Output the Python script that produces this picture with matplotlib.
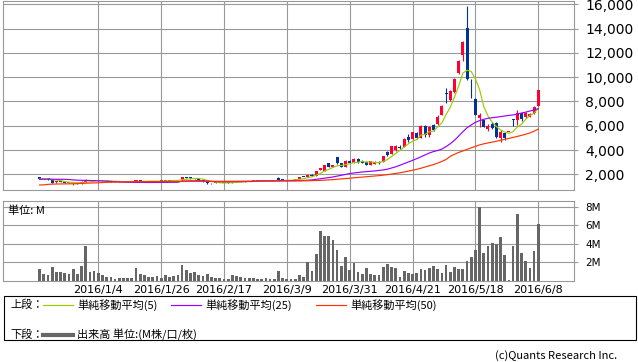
import numpy as np
import pandas as pd
import matplotlib
matplotlib.use("Agg")
import matplotlib.pyplot as plt
from matplotlib.patches import Rectangle
from matplotlib.lines import Line2D

plt.rcParams['font.family'] = ['Noto Sans CJK JP', 'DejaVu Sans']

# trading-day index, 0 = 2016/1/4
day_index = np.arange(-14, 106)

opens = [1750, 1600, 1690, 1600, 1330, 1420, 1360, 1320, 1260, 1300, 1240, 1400, 1540, 1460,
         1520, 1440, 1480, 1420, 1400, 1380, 1400, 1370, 1390, 1360,
         1500, 1440, 1420, 1440, 1420, 1460, 1450, 1480, 1470, 1500,
         1530, 1760, 1700, 1680, 1620, 1540, 1430, 1250, 1290, 1300,
         1270, 1310, 1300, 1380, 1400, 1420, 1440, 1420, 1500, 1450,
         1460, 1440, 1450, 1720, 1560, 1520, 1510, 1520, 1600, 1780,
         1760, 1960, 1890, 2360, 2300, 2900, 2600, 3400, 2900, 2630,
         3100, 2950, 3250, 3100, 3000, 2800, 2850, 3040, 3020, 3800,
         3700, 4000, 4280, 4280, 5050, 4940, 5430, 4970, 6000, 5200,
         6050, 6150, 6890, 8700, 8120, 8750, 10380, 11830, 14030, 8400,
         8200, 6610, 6480, 5700, 6150, 6250, 4970, 5380, 5510, 6500,
         6480, 7030, 6700, 6750, 7080, 7630]
highs = [1790, 1720, 1700, 1620, 1450, 1440, 1400, 1360, 1320, 1320, 1420, 1580, 1560, 1540,
         1560, 1500, 1500, 1450, 1420, 1420, 1420, 1400, 1420, 1520,
         1520, 1460, 1450, 1460, 1470, 1480, 1490, 1500, 1510, 1540,
         1800, 1800, 1760, 1700, 1640, 1560, 1450, 1320, 1330, 1320,
         1320, 1340, 1400, 1420, 1440, 1450, 1460, 1520, 1510, 1480,
         1480, 1470, 1480, 1760, 1580, 1540, 1530, 1620, 1800, 1800,
         1980, 2000, 2300, 2540, 2800, 2950, 2780, 3450, 2950, 3150,
         3150, 3320, 3320, 3150, 3100, 3100, 3080, 3100, 3530, 3950,
         4350, 4450, 4420, 4950, 5300, 5500, 5500, 6100, 6050, 6000,
         6150, 6850, 7700, 9080, 8950, 9900, 11400, 13000, 15870, 9850,
         8250, 7030, 6500, 6150, 6300, 6330, 5650, 5500, 5510, 6550,
         7300, 7100, 7150, 7050, 7650, 8950]
lows = [1580, 1580, 1560, 1280, 1300, 1340, 1300, 1250, 1150, 1220, 1220, 1380, 1440, 1450,
        1420, 1420, 1400, 1380, 1360, 1370, 1360, 1350, 1350, 1350,
        1430, 1400, 1380, 1410, 1410, 1430, 1440, 1460, 1460, 1480,
        1520, 1680, 1650, 1600, 1520, 1400, 1200, 1180, 1260, 1250,
        1250, 1280, 1290, 1350, 1380, 1400, 1410, 1410, 1440, 1420,
        1430, 1420, 1430, 1560, 1500, 1490, 1490, 1510, 1600, 1740,
        1750, 1860, 1870, 2330, 2280, 2560, 2580, 2880, 2600, 2600,
        2920, 2920, 2950, 2920, 2750, 2780, 2820, 2880, 3000, 3480,
        3680, 3950, 4080, 4250, 4700, 4900, 4900, 4950, 5100, 5100,
        5600, 6100, 6850, 7850, 8050, 8700, 10300, 11300, 9780, 8300,
        6850, 5870, 5870, 5550, 5700, 4960, 4700, 4850, 5510, 5980,
        6100, 6400, 6600, 6700, 6950, 7600]
closes = [1600, 1700, 1600, 1320, 1420, 1360, 1320, 1280, 1300, 1240, 1400, 1540, 1460, 1520,
          1440, 1480, 1420, 1400, 1380, 1400, 1370, 1390, 1360, 1500,
          1440, 1420, 1440, 1420, 1460, 1450, 1480, 1470, 1500, 1530,
          1760, 1700, 1680, 1620, 1540, 1430, 1250, 1290, 1300, 1270,
          1310, 1300, 1380, 1400, 1420, 1440, 1420, 1500, 1450, 1460,
          1440, 1450, 1470, 1560, 1520, 1510, 1520, 1600, 1780, 1760,
          1950, 1890, 2260, 2490, 2770, 2600, 2750, 2900, 2630, 3100,
          2950, 3290, 3000, 2950, 2800, 3070, 3050, 2900, 3500, 3550,
          4330, 4330, 4140, 4900, 4850, 5450, 4970, 6000, 5200, 5900,
          5680, 6750, 7630, 8640, 8900, 9850, 11340, 12930, 9830, 8340,
          6890, 6890, 5900, 5980, 5790, 5100, 5510, 4970, 5510, 6480,
          7030, 6590, 7080, 6970, 7520, 8950]

ma25 = [1590, 1592, 1595, 1593, 1590, 1588, 1585, 1570, 1540, 1515, 1505, 1500, 1495, 1480,
        1465, 1450, 1430, 1410, 1390, 1370, 1355, 1345, 1340, 1335,
        1330, 1330, 1328, 1328, 1330, 1332, 1335, 1338, 1340, 1345,
        1440, 1450, 1460, 1465, 1470, 1465, 1440, 1410, 1400, 1400,
        1398, 1398, 1400, 1400, 1402, 1405, 1405, 1408, 1440, 1450,
        1452, 1455, 1458, 1465, 1470, 1470, 1472, 1475, 1480, 1490,
        1510, 1540, 1590, 1630, 1680, 1730, 1780, 1850, 1920, 1990,
        2060, 2110, 2150, 2190, 2220, 2250, 2280, 2320, 2360, 2420,
        2520, 2620, 2750, 2880, 3010, 3150, 3290, 3440, 3600, 3750,
        3870, 3960, 4080, 4280, 4520, 4800, 5150, 5500, 5830, 6060,
        6280, 6420, 6530, 6610, 6660, 6700, 6750, 6800, 6850, 6890,
        6960, 7040, 7120, 7210, 7300, 7400]
ma50 = [1120, 1130, 1170, 1190, 1200, 1205, 1210, 1215, 1220, 1230, 1250, 1265, 1280, 1290,
        1300, 1320, 1340, 1350, 1360, 1370, 1375, 1380, 1385, 1390,
        1392, 1395, 1395, 1396, 1398, 1400, 1400, 1402, 1405, 1405,
        1410, 1412, 1415, 1418, 1420, 1420, 1420, 1422, 1425, 1425,
        1425, 1428, 1430, 1430, 1432, 1432, 1435, 1435, 1438, 1440,
        1440, 1442, 1442, 1445, 1448, 1450, 1452, 1455, 1460, 1465,
        1470, 1480, 1490, 1500, 1520, 1540, 1560, 1590, 1620, 1650,
        1680, 1710, 1740, 1770, 1800, 1830, 1860, 1890, 1930, 1970,
        2020, 2070, 2130, 2190, 2260, 2330, 2410, 2500, 2600, 2700,
        2800, 2920, 3060, 3220, 3480, 3650, 3800, 3920, 4050, 4180,
        4300, 4420, 4510, 4580, 4650, 4720, 4800, 4880, 4960, 5040,
        5120, 5210, 5300, 5400, 5550, 5720]

# volume in millions
volumes = [1.23, 0.72, 0.58, 1.48, 0.97, 0.90, 0.79, 0.72, 1.23, 0.69, 1.59, 3.75, 0.94, 1.00,
           0.83, 0.61, 0.40, 0.40, 0.14, 0.25, 0.25, 0.25, 0.25, 1.37, 0.69, 0.58, 0.40, 0.36, 0.47,
           0.25, 0.58, 0.36, 0.47, 0.58, 1.66, 1.12, 0.76, 0.90, 0.65, 0.50, 0.69, 0.40, 0.29, 0.29,
           0.14, 0.14, 0.58, 0.47, 0.40, 0.22, 0.25, 0.25, 0.14, 0.14, 0.25, 0.14, 0.14, 1.00, 0.25,
           0.12, 0.12, 0.12, 0.65, 0.38, 1.97, 1.00, 2.85,
           5.34, 4.80, 4.80, 4.37, 3.29, 1.55, 2.53, 1.12, 1.91, 0.90, 0.69, 1.34, 0.69, 0.58, 0.58,
           1.44, 1.77, 1.44, 1.34, 0.36, 1.00, 0.79, 0.69, 0.79, 1.23, 1.12, 1.34, 1.55, 1.23, 0.79,
           1.66, 0.90, 1.44, 1.23, 1.23, 2.10, 2.53, 3.29, 7.98, 2.96, 3.72, 4.04, 4.00, 4.69, 2.74,
           0.04, 3.72, 7.18, 2.96, 2.10, 1.34, 3.18, 6.10]

tick_days = [0, 15, 30, 45, 60, 75, 90, 105]
tick_labels = ['2016/1/4', '2016/1/26', '2016/2/17', '2016/3/9',
               '2016/3/31', '2016/4/21', '2016/5/18', '2016/6/8']
price_ticks = [2000, 4000, 6000, 8000, 10000, 12000, 14000, 16000]
vol_ticks = [2, 4, 6, 8]

RED = '#ff0033'
BLUE = '#003399'
GRID = '#999999'

W, H = 638, 362
fx = lambda px: px / W
fy = lambda py: 1 - py / H

fig = plt.figure(figsize=(W / 100, H / 100), dpi=100)
ax = fig.add_axes([fx(3.3), fy(190.3), fx(574.3) - fx(3.3), fy(0.7) - fy(190.3)])
axv = fig.add_axes([fx(3.3), fy(280.5), fx(574.3) - fx(3.3), fy(201) - fy(280.5)])

o = np.array(opens, dtype=float)
c = np.array(closes, dtype=float)
col = np.where(c >= o, RED, BLUE)

ax.vlines(day_index, lows, highs, colors=col, lw=0.8, zorder=3)
ax.bar(day_index, np.maximum(np.abs(c - o), 60), bottom=np.minimum(o, c),
       width=0.72, color=col, lw=0, zorder=3)

ma5 = pd.Series(closes).rolling(5, min_periods=1).mean()
ax.plot(day_index, ma5, color='#99cc00', lw=0.85, zorder=4)
ax.plot(day_index, ma25, color='#9900ff', lw=0.85, zorder=4)
ax.plot(day_index, ma50, color='#ff3300', lw=0.85, zorder=4)

axv.bar(day_index, volumes, width=0.65, color='#666666', lw=0, zorder=3)

for a in (ax, axv):
    a.set_xlim(-22.67, 113.6)
    a.set_xticks(tick_days)
    a.grid(True, color=GRID, lw=0.8, zorder=0)
    a.set_axisbelow(True)
    for s in a.spines.values():
        s.set_color(GRID)
        s.set_linewidth(0.8)
    a.yaxis.tick_right()
    a.tick_params(axis='y', length=3, color=GRID, pad=5)
    a.tick_params(axis='x', length=0)

ax.set_ylim(682, 16296)
ax.set_yticks(price_ticks)
ax.set_yticklabels([f'{v:,}' for v in price_ticks], fontsize=10, family='DejaVu Sans')
ax.set_xticklabels([])

axv.set_ylim(0, 8.62)
axv.set_yticks(vol_ticks)
axv.set_yticklabels([f'{v}M' for v in vol_ticks], fontsize=7.5, family='DejaVu Sans')
axv.set_xticklabels(tick_labels, fontsize=8, family='DejaVu Sans')
axv.tick_params(axis='x', pad=3)
axv.text(0.008, 0.94, '単位: M', transform=axv.transAxes, fontsize=8, va='top', ha='left')

# legend box
fig.add_artist(Rectangle((fx(3.5), fy(340)), fx(636) - fx(3.5), fy(296) - fy(340),
                         transform=fig.transFigure, fill=False, ec='black', lw=0.8))
row1, row2 = 305, 335
fig.text(fx(10), fy(row1), '上段：', fontsize=8, va='center')
legend_items = [(43, '#99cc00', '単純移動平均(5)'),
                (171, '#9900ff', '単純移動平均(25)'),
                (316, '#ff3300', '単純移動平均(50)')]
for x0, color, label in legend_items:
    fig.add_artist(Line2D([fx(x0), fx(x0 + 30)], [fy(row1), fy(row1)],
                          transform=fig.transFigure, color=color, lw=0.85))
    fig.text(fx(x0 + 34), fy(row1), label, fontsize=8, va='center')
fig.text(fx(10), fy(row2), '下段：', fontsize=8, va='center')
fig.add_artist(Line2D([fx(43), fx(73)], [fy(row2), fy(row2)],
                      transform=fig.transFigure, color='#666666', lw=3))
fig.text(fx(77), fy(row2), '出来高 単位:(M株/口/枚)', fontsize=8, va='center')

fig.text(fx(617), fy(356), '(c)Quants Research Inc.', fontsize=8, ha='right', va='center')

fig.savefig('out.png', dpi=100)
